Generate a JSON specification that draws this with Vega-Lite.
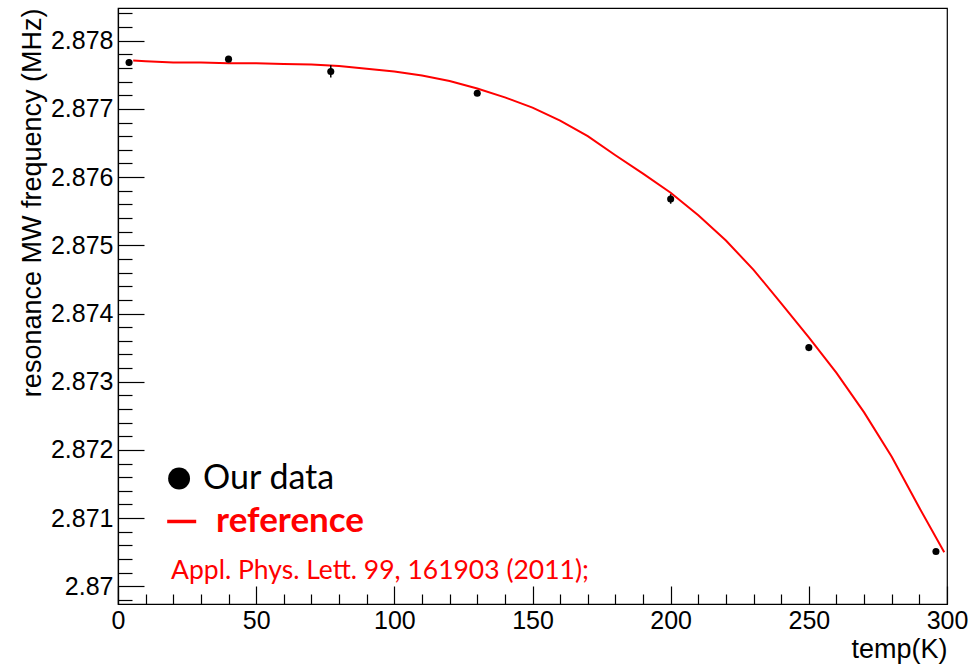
{
  "$schema": "https://vega.github.io/schema/vega-lite/v6.json",
  "width": 829,
  "height": 596,
  "autosize": "none",
  "padding": {"left": 118, "top": 8, "right": 30, "bottom": 63},
  "background": "white",
  "config": {
    "view": {"stroke": "black", "strokeWidth": 1.2},
    "axis": {"grid": false, "labelFlush": false, "domainColor": "black", "tickColor": "black", "labelColor": "black", "titleColor": "black", "labelFont": "Liberation Sans", "titleFont": "Liberation Sans", "titleFontWeight": "normal", "labelFontSize": 25, "titleFontSize": 27, "domainWidth": 1.2, "tickWidth": 1.2}
  },
  "datasets": {
    "pts": [
      {"T": 4, "f": 2.87768, "lo": 2.87763, "hi": 2.87773},
      {"T": 40, "f": 2.87773, "lo": 2.87770, "hi": 2.87776},
      {"T": 77, "f": 2.87755, "lo": 2.87746, "hi": 2.87764},
      {"T": 130, "f": 2.87723, "lo": 2.87720, "hi": 2.87726},
      {"T": 200, "f": 2.87568, "lo": 2.87561, "hi": 2.87575},
      {"T": 250, "f": 2.87350, "lo": 2.87348, "hi": 2.87352},
      {"T": 296, "f": 2.87051, "lo": 2.87048, "hi": 2.87054}
    ],
    "ref": [
      {"T": 5.5, "f": 2.87771}, {"T": 10, "f": 2.87770}, {"T": 20, "f": 2.87768},
      {"T": 30, "f": 2.87768}, {"T": 40, "f": 2.87767}, {"T": 50, "f": 2.87767},
      {"T": 60, "f": 2.87766}, {"T": 70, "f": 2.87765}, {"T": 80, "f": 2.87763},
      {"T": 90, "f": 2.87759}, {"T": 100, "f": 2.87755}, {"T": 110, "f": 2.87749},
      {"T": 120, "f": 2.87741}, {"T": 130, "f": 2.87730}, {"T": 140, "f": 2.87717},
      {"T": 150, "f": 2.87702}, {"T": 160, "f": 2.87683}, {"T": 170, "f": 2.87660},
      {"T": 180, "f": 2.87632}, {"T": 190, "f": 2.87605}, {"T": 200, "f": 2.87577},
      {"T": 210, "f": 2.87544}, {"T": 220, "f": 2.87507}, {"T": 230, "f": 2.87464},
      {"T": 240, "f": 2.87415}, {"T": 250, "f": 2.87365}, {"T": 260, "f": 2.87313},
      {"T": 270, "f": 2.87255}, {"T": 280, "f": 2.87190}, {"T": 290, "f": 2.87115},
      {"T": 299, "f": 2.87050}
    ]
  },
  "resolve": {"axis": {"x": "independent", "y": "independent"}},
  "layer": [
    {
      "data": {"name": "ref"},
      "mark": {"type": "line", "color": "#ff0000", "strokeWidth": 2},
      "encoding": {
        "x": {"field": "T", "type": "quantitative", "scale": {"domain": [0, 300], "nice": false, "zero": false},
          "axis": {"orient": "bottom", "values": [0, 50, 100, 150, 200, 250, 300], "tickSize": -18, "labelPadding": 22, "title": "temp(K)", "titleAnchor": "end", "titlePadding": 3, "format": "d"}},
        "y": {"field": "f", "type": "quantitative", "scale": {"domain": [2.86974, 2.87848], "nice": false, "zero": false},
          "axis": {"orient": "left", "values": [2.870, 2.871, 2.872, 2.873, 2.874, 2.875, 2.876, 2.877, 2.878], "tickSize": -26, "labelPadding": 31, "format": ".4~f", "title": "resonance MW frequency (MHz)", "titleAnchor": "end", "titleFontSize": 27, "titlePadding": 4}}
      }
    },
    {
      "data": {"name": "pts"},
      "mark": {"type": "rule", "color": "black", "strokeWidth": 1.5},
      "encoding": {
        "x": {"field": "T", "type": "quantitative",
          "axis": {"orient": "bottom", "values": [10, 20, 30, 40, 60, 70, 80, 90, 110, 120, 130, 140, 160, 170, 180, 190, 210, 220, 230, 240, 260, 270, 280, 290], "tickSize": -10, "labels": false, "domain": false, "title": null}},
        "y": {"field": "lo", "type": "quantitative",
          "axis": {"orient": "left", "values": [2.8698, 2.8702, 2.8704, 2.8706, 2.8708, 2.8712, 2.8714, 2.8716, 2.8718, 2.8722, 2.8724, 2.8726, 2.8728, 2.8732, 2.8734, 2.8736, 2.8738, 2.8742, 2.8744, 2.8746, 2.8748, 2.8752, 2.8754, 2.8756, 2.8758, 2.8762, 2.8764, 2.8766, 2.8768, 2.8772, 2.8774, 2.8776, 2.8778, 2.8782, 2.8784], "tickSize": -14, "labels": false, "domain": false, "title": null}},
        "y2": {"field": "hi"}
      }
    },
    {
      "data": {"name": "pts"},
      "mark": {"type": "point", "filled": true, "color": "black", "size": 50, "opacity": 1},
      "encoding": {
        "x": {"field": "T", "type": "quantitative", "axis": null},
        "y": {"field": "f", "type": "quantitative", "axis": null}
      }
    },
    {
      "data": {"values": [{"T": 22.1, "f": 2.87158}]},
      "mark": {"type": "point", "filled": true, "color": "black", "size": 480, "opacity": 1},
      "encoding": {
        "x": {"field": "T", "type": "quantitative", "axis": null},
        "y": {"field": "f", "type": "quantitative", "axis": null}
      }
    },
    {
      "data": {"values": [{"T": 30.8, "f": 2.87158, "label": "Our data"}]},
      "mark": {"type": "text", "align": "left", "baseline": "middle", "font": "Lato", "fontSize": 34, "color": "black"},
      "encoding": {
        "x": {"field": "T", "type": "quantitative", "axis": null},
        "y": {"field": "f", "type": "quantitative", "axis": null},
        "text": {"field": "label"}
      }
    },
    {
      "data": {"values": [{"T": 17.8, "T2": 28.3, "f": 2.87095}]},
      "mark": {"type": "rule", "color": "#ff0000", "strokeWidth": 3.5},
      "encoding": {
        "x": {"field": "T", "type": "quantitative", "axis": null},
        "x2": {"field": "T2"},
        "y": {"field": "f", "type": "quantitative", "axis": null}
      }
    },
    {
      "data": {"values": [{"T": 35.5, "f": 2.87095, "label": "reference"}]},
      "mark": {"type": "text", "align": "left", "baseline": "middle", "font": "Lato", "fontSize": 35, "fontWeight": "bold", "color": "#ff0000"},
      "encoding": {
        "x": {"field": "T", "type": "quantitative", "axis": null},
        "y": {"field": "f", "type": "quantitative", "axis": null},
        "text": {"field": "label"}
      }
    },
    {
      "data": {"values": [{"T": 19.2, "f": 2.87023, "label": "Appl. Phys. Lett. 99, 161903 (2011);"}]},
      "mark": {"type": "text", "align": "left", "baseline": "middle", "font": "Lato", "fontSize": 26.5, "color": "#ff0000"},
      "encoding": {
        "x": {"field": "T", "type": "quantitative", "axis": null},
        "y": {"field": "f", "type": "quantitative", "axis": null},
        "text": {"field": "label"}
      }
    }
  ]
}
